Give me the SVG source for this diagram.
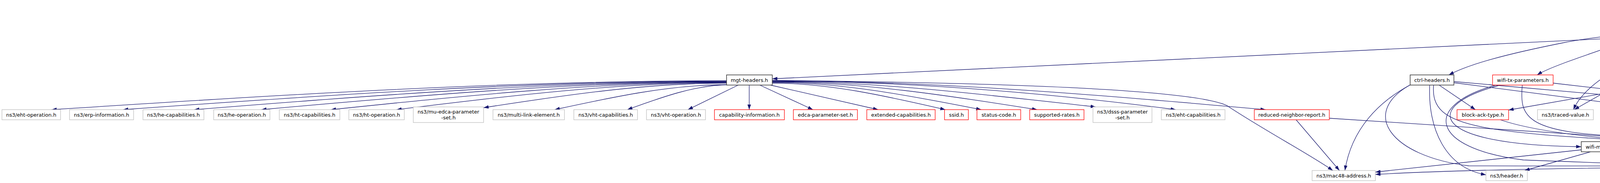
<svg xmlns="http://www.w3.org/2000/svg" width="7151" height="469" viewBox="0 0 7151 469">
<defs>
<marker id="a" markerUnits="userSpaceOnUse" markerWidth="13" markerHeight="10" refX="13" refY="4.5" orient="auto"><path d="M0,0 L13,4.5 L0,9 z" fill="#191970"/></marker>
</defs>
<style>
rect{fill:#fff;stroke-width:1.3}
.b rect{stroke:#404040;stroke-width:1.6}
.r rect{stroke:#ff0000}
.g rect{stroke:#bfbfbf}
.t rect{fill:#bfbfbf;stroke:#404040;stroke-width:1.6}
text{font-family:"DejaVu Sans","Liberation Sans",sans-serif;font-size:13px;text-anchor:middle;fill:#000}
#edges path{fill:none;stroke:#191970;stroke-width:1.3;marker-end:url(#a)}
</style>
<rect x="0" y="0" width="7151" height="469" style="fill:#fff;stroke:none"/>
<g id="edges">
<path d="M5565,30 L4342,112"/>
<path d="M5565,32 L4790,102"/>
<path d="M5565,34 L5000,102"/>
<path d="M5625,46 L5600,102"/>
<path d="M5679,46 L5802,102"/>
<path d="M5704,43 L5937,102"/>
<path d="M5704,37 C5900,45 6040,70 6085,95"/>
<path d="M5704,34 C6000,45 6200,70 6290,102"/>
<path d="M5704,33 C6050,42 6300,70 6392,102"/>
<path d="M5704,32 C6100,38 6420,65 6525,95"/>
<path d="M5704,31 C6200,35 6600,60 6705,102"/>
<path d="M5565,29 L1977,202"/>
<path d="M5565,31 C4700,45 4200,70 4000,110 C3850,140 3760,165 3709,192"/>
<path d="M5565,33 C4700,40 4300,60 4180,100 C4080,135 3970,170 3935,192"/>
<path d="M5565,36 C4800,50 4620,65 4580,110 C4550,140 4525,165 4517,192"/>
<path d="M5602,46 L5372,192"/>
<path d="M5636,46 C5670,115 5710,145 5790,155 C6000,165 6170,165 6205,192"/>
<path d="M5641,46 C5680,110 5720,140 5800,150 C6100,160 6350,165 6392,192"/>
<path d="M4278,128 L4181,192"/>
<path d="M4297,128 L4297,192"/>
<path d="M4262,128 C4130,165 4050,230 4028,281"/>
<path d="M4342,123 L4772,197"/>
<path d="M4740,128 L4805,192"/>
<path d="M4757,128 L4906,192"/>
<path d="M4690,128 C4600,180 4610,240 4660,281"/>
<path d="M4721,128 C4705,190 4730,250 4790,281"/>
<path d="M4653,122 C4500,140 4415,170 4420,230 C4425,300 4490,330 4500,363"/>
<path d="M4918,128 L4834,192"/>
<path d="M4935,128 L4935,192"/>
<path d="M4863,124 C4790,150 4720,200 4690,281"/>
<path d="M4870,128 C4740,160 4730,220 4790,281"/>
<path d="M4953,128 C5010,180 5010,230 4992,281"/>
<path d="M5008,121 C5200,140 5440,160 5490,200 C5510,260 5520,380 5610,437"/>
<path d="M5595,128 L5595,192"/>
<path d="M5612,128 L5700,192"/>
<path d="M5637,128 L5825,184"/>
<path d="M5632,128 C5760,180 6000,170 6050,192"/>
<path d="M5552,124 L5208,192"/>
<path d="M5632,128 C5750,150 5990,140 6010,220 C6030,280 5950,330 5905,363"/>
<path d="M5763,125 C5300,150 4950,150 4855,192"/>
<path d="M5790,128 C5790,300 5500,250 5020,281"/>
<path d="M5880,128 C6100,180 6700,150 6805,192"/>
<path d="M5870,128 C6100,175 6480,150 6548,192"/>
<path d="M5875,128 C6100,178 6600,150 6671,192"/>
<path d="M5885,128 C6300,150 6950,140 6990,200 C7000,230 6975,260 6958,281"/>
<path d="M6040,128 C6400,170 6950,160 7057,192"/>
<path d="M1860,207 C1284,207 708,244 132,281"/>
<path d="M1860,208 C1345,208 830,244 315,281"/>
<path d="M1860,209 C1406,209 951,245 497,281"/>
<path d="M1860,210 C1463,210 1066,245 669,281"/>
<path d="M1860,211 C1522,211 1185,246 847,281"/>
<path d="M1860,212 C1578,212 1297,246 1015,281"/>
<path d="M1860,213 C1653,213 1445,244 1238,276"/>
<path d="M1862,217 C1715,217 1567,249 1420,281"/>
<path d="M1870,217 C1782,217 1694,249 1606,281"/>
<path d="M1892,217 L1761,281"/>
<path d="M1918,218 L1918,281"/>
<path d="M1945,218 L2081,281"/>
<path d="M1972,218 L2248,281"/>
<path d="M1977,213 C2125,213 2272,247 2420,281"/>
<path d="M1977,211 C2155,211 2334,246 2512,281"/>
<path d="M1977,210 C2203,210 2429,245 2655,281"/>
<path d="M1977,209 C2251,209 2524,243 2805,274"/>
<path d="M1977,208 C2321,208 2680,238 3010,281"/>
<path d="M1977,207 C2398,207 2819,244 3240,281"/>
<path d="M1977,206 C2600,212 3050,230 3140,270 C3230,330 3360,400 3412,437"/>
<path d="M3684,218 L3777,281"/>
<path d="M3722,212 L4307,288"/>
<path d="M3722,209 L4629,289"/>
<path d="M3660,218 C3655,330 3700,430 3804,448"/>
<path d="M3613,216 C3530,260 3460,330 3443,437"/>
<path d="M3611,217 C3480,290 3560,400 3760,425 C4500,428 5500,415 5877,446"/>
<path d="M3670,218 C3660,340 3800,340 4478,377"/>
<path d="M3976,213 L4629,288"/>
<path d="M3841,218 C3640,270 3650,372 4048,376"/>
<path d="M3830,218 C3640,270 3660,380 3900,410 C4400,430 5200,445 5601,450"/>
<path d="M3897,218 C3890,300 3900,345 4200,350 C4500,352 4800,365 4964,376"/>
<path d="M4141,218 L4030,281"/>
<path d="M4159,218 L4121,363"/>
<path d="M4175,218 C4260,330 4380,360 4478,375"/>
<path d="M4190,218 L4629,290"/>
<path d="M4186,218 L4785,281"/>
<path d="M4228,218 L3862,282"/>
<path d="M4284,218 L4131,363"/>
<path d="M4351,218 L4629,282"/>
<path d="M4377,215 L4936,288"/>
<path d="M4377,212 L5160,287"/>
<path d="M4360,218 C4430,290 4420,400 4500,425 C4900,440 5400,448 5601,449"/>
<path d="M4452,217 C4330,250 4200,300 4146,363"/>
<path d="M4545,213 L4936,289"/>
<path d="M4523,218 L4663,281"/>
<path d="M4502,218 L4509,363"/>
<path d="M4507,218 C4540,320 4700,360 4964,376"/>
<path d="M4859,218 L5601,442"/>
<path d="M4977,218 L5191,281"/>
<path d="M4932,218 C4920,320 4800,370 4541,375"/>
<path d="M5158,218 L5222,281"/>
<path d="M5081,218 L4736,284"/>
<path d="M5099,218 L4860,281"/>
<path d="M5137,218 C5100,320 4900,360 4541,373"/>
<path d="M5336,218 L5252,281"/>
<path d="M5362,218 L5415,281"/>
<path d="M5394,218 L5609,281"/>
<path d="M5259,218 L4736,287"/>
<path d="M5276,218 L4862,286"/>
<path d="M5258,217 L4402,290"/>
<path d="M5352,218 C5352,290 5340,315 5250,322 C5000,340 4700,365 4541,378"/>
<path d="M5382,218 C5480,280 5580,360 5615,437"/>
<path d="M5893,224 L5897,363"/>
<path d="M5821,222 L5034,290"/>
<path d="M6037,215 L5710,282"/>
<path d="M6104,218 L6191,281"/>
<path d="M6090,218 C6095,330 6050,420 5921,447"/>
<path d="M6083,218 C6060,330 6010,390 5960,405 C5850,430 5720,440 5652,447"/>
<path d="M6060,218 C6000,240 5500,260 4855,281"/>
<path d="M5899,389 L5899,437"/>
<path d="M5851,389 L5651,443"/>
<path d="M5309,303 L5835,368"/>
<path d="M4985,307 L4985,363"/>
<path d="M4936,303 L4541,371"/>
<path d="M4937,306 L4187,371"/>
<path d="M5034,304 L5877,447"/>
<path d="M6252,218 L6216,281"/>
<path d="M6271,218 C6330,270 6340,310 6260,325 C6100,380 5980,420 5860,425 C5000,428 4000,420 3521,447"/>
<path d="M6413,218 L6244,281"/>
<path d="M6438,218 C6380,330 6000,390 5651,445"/>
<path d="M6882,218 L6930,281"/>
<path d="M6805,218 L5920,445"/>
<path d="M6790,218 L5006,376"/>
<path d="M4072,389 L3903,437"/>
<path d="M4048,384 L3521,441"/>
<path d="M3318,307 L3429,437"/>
<path d="M3403,303 L4478,373"/>
<path d="M3841,307 C3950,345 4200,368 4478,375"/>
</g>
<g id="node-qos-txop-cc" class="t"><rect x="5565" y="5" width="139" height="41"/><text x="5634.5" y="22">src/wifi/model/qos</text><text x="5634.5" y="37">-txop.cc</text></g>
<g id="node-qos-txop-h" class="b"><rect x="4252" y="102" width="90" height="26"/><text x="4297" y="119.5">qos-txop.h</text></g>
<g id="node-mpdu-aggregator-h" class="b"><rect x="4653" y="102" width="147" height="26"/><text x="4726.5" y="119.5">mpdu-aggregator.h</text></g>
<g id="node-msdu-aggregator-h" class="b"><rect x="4863" y="102" width="145" height="26"/><text x="4935.5" y="119.5">msdu-aggregator.h</text></g>
<g id="node-wifi-phy-h" class="b"><rect x="5552" y="102" width="85" height="26"/><text x="5594.5" y="119.5">wifi-phy.h</text></g>
<g id="node-wifi-mac-queue-h" class="b"><rect x="5763" y="102" width="135" height="26"/><text x="5830.5" y="119.5">wifi-mac-queue.h</text></g>
<g id="node-wifi-mac-trailer-h" class="b"><rect x="5922" y="102" width="134" height="26"/><text x="5989" y="119.5">wifi-mac-trailer.h</text></g>
<g id="node-ht-frame-exchange-manager-h" class="g"><rect x="6080" y="95" width="175" height="40"/><text x="6167.5" y="111.5">ns3/ht-frame-exchange</text><text x="6167.5" y="126.5">-manager.h</text></g>
<g id="node-log-h" class="g"><rect x="6279" y="102" width="81" height="26"/><text x="6319.5" y="119.5">ns3/log.h</text></g>
<g id="node-pointer-h" class="g"><rect x="6385" y="102" width="107" height="26"/><text x="6438.5" y="119.5">ns3/pointer.h</text></g>
<g id="node-random-variable-stream-h" class="g"><rect x="6517" y="95" width="156" height="40"/><text x="6595" y="111.5">ns3/random-variable</text><text x="6595" y="126.5">-stream.h</text></g>
<g id="node-simulator-h" class="g"><rect x="6697" y="102" width="123" height="26"/><text x="6758.5" y="119.5">ns3/simulator.h</text></g>
<g id="node-mgt-headers-h" class="b"><rect x="1860" y="192" width="117" height="26"/><text x="1918.5" y="209.5">mgt-headers.h</text></g>
<g id="node-ctrl-headers-h" class="b"><rect x="3610" y="192" width="112" height="26"/><text x="3666" y="209.5">ctrl-headers.h</text></g>
<g id="node-wifi-tx-parameters-h" class="r"><rect x="3821" y="192" width="155" height="26"/><text x="3898.5" y="209.5">wifi-tx-parameters.h</text></g>
<g id="node-txop-h" class="r"><rect x="4131" y="192" width="63" height="26"/><text x="4162.5" y="209.5">txop.h</text></g>
<g id="node-block-ack-manager-h" class="r"><rect x="4218" y="192" width="159" height="26"/><text x="4297.5" y="209.5">block-ack-manager.h</text></g>
<g id="node-wifi-psdu-h" class="b"><rect x="4452" y="192" width="93" height="26"/><text x="4498.5" y="209.5">wifi-psdu.h</text></g>
<g id="node-qos-utils-h" class="r"><rect x="4772" y="192" width="91" height="26"/><text x="4817.5" y="209.5">qos-utils.h</text></g>
<g id="node-wifi-mode-h" class="r"><rect x="4886" y="192" width="99" height="26"/><text x="4935.5" y="209.5">wifi-mode.h</text></g>
<g id="node-wifi-phy-state-helper-h" class="r"><rect x="5061" y="192" width="169" height="26"/><text x="5145.5" y="209.5">wifi-phy-state-helper.h</text></g>
<g id="node-channel-access-manager-h" class="b"><rect x="5254" y="192" width="196" height="26"/><text x="5352" y="209.5">channel-access-manager.h</text></g>
<g id="node-error-model-h" class="g"><rect x="5525" y="192" width="139" height="26"/><text x="5594.5" y="209.5">ns3/error-model.h</text></g>
<g id="node-limits" class="g"><rect x="5687" y="192" width="60" height="26"/><text x="5717" y="209.5">limits</text></g>
<g id="node-wifi-phy-operating-channel-h" class="r"><rect x="5821" y="184" width="142" height="40"/><text x="5892" y="200.5">wifi-phy-operating</text><text x="5892" y="215.5">-channel.h</text></g>
<g id="node-phy-entity-h" class="r"><rect x="6037" y="192" width="99" height="26"/><text x="6086.5" y="209.5">phy-entity.h</text></g>
<g id="node-qos-blocked-destinations-h" class="b"><rect x="6160" y="192" width="197" height="26"/><text x="6258.5" y="209.5">qos-blocked-destinations.h</text></g>
<g id="node-mac-tx-middle-h" class="b"><rect x="6381" y="192" width="131" height="26"/><text x="6446.5" y="209.5">mac-tx-middle.h</text></g>
<g id="node-queue-h" class="g"><rect x="6536" y="192" width="101" height="26"/><text x="6586.5" y="209.5">ns3/queue.h</text></g>
<g id="node-functional" class="g"><rect x="6662" y="192" width="86" height="26"/><text x="6705" y="209.5">functional</text></g>
<g id="node-wifi-mac-queue-container-h" class="r"><rect x="6772" y="192" width="201" height="26"/><text x="6872.5" y="209.5">wifi-mac-queue-container.h</text></g>
<g id="node-trailer-h" class="g"><rect x="7047" y="192" width="98" height="26"/><text x="7096" y="209.5">ns3/trailer.h</text></g>
<g id="node-eht-operation-h" class="g"><rect x="5" y="281" width="150" height="26"/><text x="80" y="298.5">ns3/eht-operation.h</text></g>
<g id="node-erp-information-h" class="g"><rect x="178" y="281" width="164" height="26"/><text x="260" y="298.5">ns3/erp-information.h</text></g>
<g id="node-he-capabilities-h" class="g"><rect x="366" y="281" width="156" height="26"/><text x="444" y="298.5">ns3/he-capabilities.h</text></g>
<g id="node-he-operation-h" class="g"><rect x="547" y="281" width="144" height="26"/><text x="619" y="298.5">ns3/he-operation.h</text></g>
<g id="node-ht-capabilities-h" class="g"><rect x="715" y="281" width="155" height="26"/><text x="792.5" y="298.5">ns3/ht-capabilities.h</text></g>
<g id="node-ht-operation-h" class="g"><rect x="893" y="281" width="142" height="26"/><text x="964" y="298.5">ns3/ht-operation.h</text></g>
<g id="node-mu-edca-parameter-set-h" class="g"><rect x="1058" y="274" width="180" height="40"/><text x="1148" y="290.5">ns3/mu-edca-parameter</text><text x="1148" y="305.5">-set.h</text></g>
<g id="node-multi-link-element-h" class="g"><rect x="1262" y="281" width="183" height="26"/><text x="1353.5" y="298.5">ns3/multi-link-element.h</text></g>
<g id="node-vht-capabilities-h" class="g"><rect x="1469" y="281" width="163" height="26"/><text x="1550.5" y="298.5">ns3/vht-capabilities.h</text></g>
<g id="node-vht-operation-h" class="g"><rect x="1655" y="281" width="151" height="26"/><text x="1730.5" y="298.5">ns3/vht-operation.h</text></g>
<g id="node-capability-information-h" class="r"><rect x="1829" y="281" width="179" height="26"/><text x="1918.5" y="298.5">capability-information.h</text></g>
<g id="node-edca-parameter-set-h" class="r"><rect x="2031" y="281" width="164" height="26"/><text x="2113" y="298.5">edca-parameter-set.h</text></g>
<g id="node-extended-capabilities-h" class="r"><rect x="2219" y="281" width="175" height="26"/><text x="2306.5" y="298.5">extended-capabilities.h</text></g>
<g id="node-ssid-h" class="r"><rect x="2418" y="281" width="61" height="26"/><text x="2448.5" y="298.5">ssid.h</text></g>
<g id="node-status-code-h" class="r"><rect x="2501" y="281" width="112" height="26"/><text x="2557" y="298.5">status-code.h</text></g>
<g id="node-supported-rates-h" class="r"><rect x="2636" y="281" width="139" height="26"/><text x="2705.5" y="298.5">supported-rates.h</text></g>
<g id="node-dsss-parameter-set-h" class="g"><rect x="2798" y="274" width="151" height="40"/><text x="2873.5" y="290.5">ns3/dsss-parameter</text><text x="2873.5" y="305.5">-set.h</text></g>
<g id="node-eht-capabilities-h" class="g"><rect x="2973" y="281" width="163" height="26"/><text x="3054.5" y="298.5">ns3/eht-capabilities.h</text></g>
<g id="node-reduced-neighbor-report-h" class="r"><rect x="3211" y="281" width="192" height="26"/><text x="3307" y="298.5">reduced-neighbor-report.h</text></g>
<g id="node-block-ack-type-h" class="r"><rect x="3730" y="281" width="132" height="26"/><text x="3796" y="298.5">block-ack-type.h</text></g>
<g id="node-traced-value-h" class="g"><rect x="3936" y="281" width="143" height="26"/><text x="4007.5" y="298.5">ns3/traced-value.h</text></g>
<g id="node-he-ru-h" class="g"><rect x="4307" y="281" width="95" height="26"/><text x="4354.5" y="298.5">ns3/he-ru.h</text></g>
<g id="node-nstime-h" class="g"><rect x="4629" y="281" width="107" height="26"/><text x="4682.5" y="298.5">ns3/nstime.h</text></g>
<g id="node-object-h" class="g"><rect x="4760" y="281" width="102" height="26"/><text x="4811" y="298.5">ns3/object.h</text></g>
<g id="node-wifi-mpdu-h" class="r"><rect x="4936" y="281" width="98" height="26"/><text x="4985" y="298.5">wifi-mpdu.h</text></g>
<g id="node-wifi-phy-common-h" class="r"><rect x="5160" y="281" width="149" height="26"/><text x="5234.5" y="298.5">wifi-phy-common.h</text></g>
<g id="node-algorithm" class="g"><rect x="5383" y="281" width="86" height="26"/><text x="5426" y="298.5">algorithm</text></g>
<g id="node-event-id-h" class="g"><rect x="5595" y="281" width="115" height="26"/><text x="5652.5" y="298.5">ns3/event-id.h</text></g>
<g id="node-simple-ref-count-h" class="g"><rect x="6125" y="281" width="168" height="26"/><text x="6209" y="298.5">ns3/simple-ref-count.h</text></g>
<g id="node-unordered-map" class="g"><rect x="6878" y="281" width="124" height="26"/><text x="6940" y="298.5">unordered_map</text></g>
<g id="node-wifi-mac-header-h" class="b"><rect x="4048" y="363" width="139" height="26"/><text x="4117.5" y="380.5">wifi-mac-header.h</text></g>
<g id="node-vector" class="g"><rect x="4478" y="363" width="63" height="26"/><text x="4509.5" y="380.5">vector</text></g>
<g id="node-set" class="g"><rect x="4964" y="363" width="42" height="26"/><text x="4985" y="380.5">set</text></g>
<g id="node-wifi-standards-h" class="r"><rect x="5835" y="363" width="127" height="26"/><text x="5898.5" y="380.5">wifi-standards.h</text></g>
<g id="node-mac48-address-h" class="g"><rect x="3359" y="437" width="162" height="26"/><text x="3440" y="454.5">ns3/mac48-address.h</text></g>
<g id="node-header-h" class="g"><rect x="3804" y="437" width="106" height="26"/><text x="3857" y="454.5">ns3/header.h</text></g>
<g id="node-map" class="g"><rect x="5601" y="437" width="50" height="26"/><text x="5626" y="454.5">map</text></g>
<g id="node-list" class="g"><rect x="5877" y="437" width="43" height="26"/><text x="5898.5" y="454.5">list</text></g>
</svg>
